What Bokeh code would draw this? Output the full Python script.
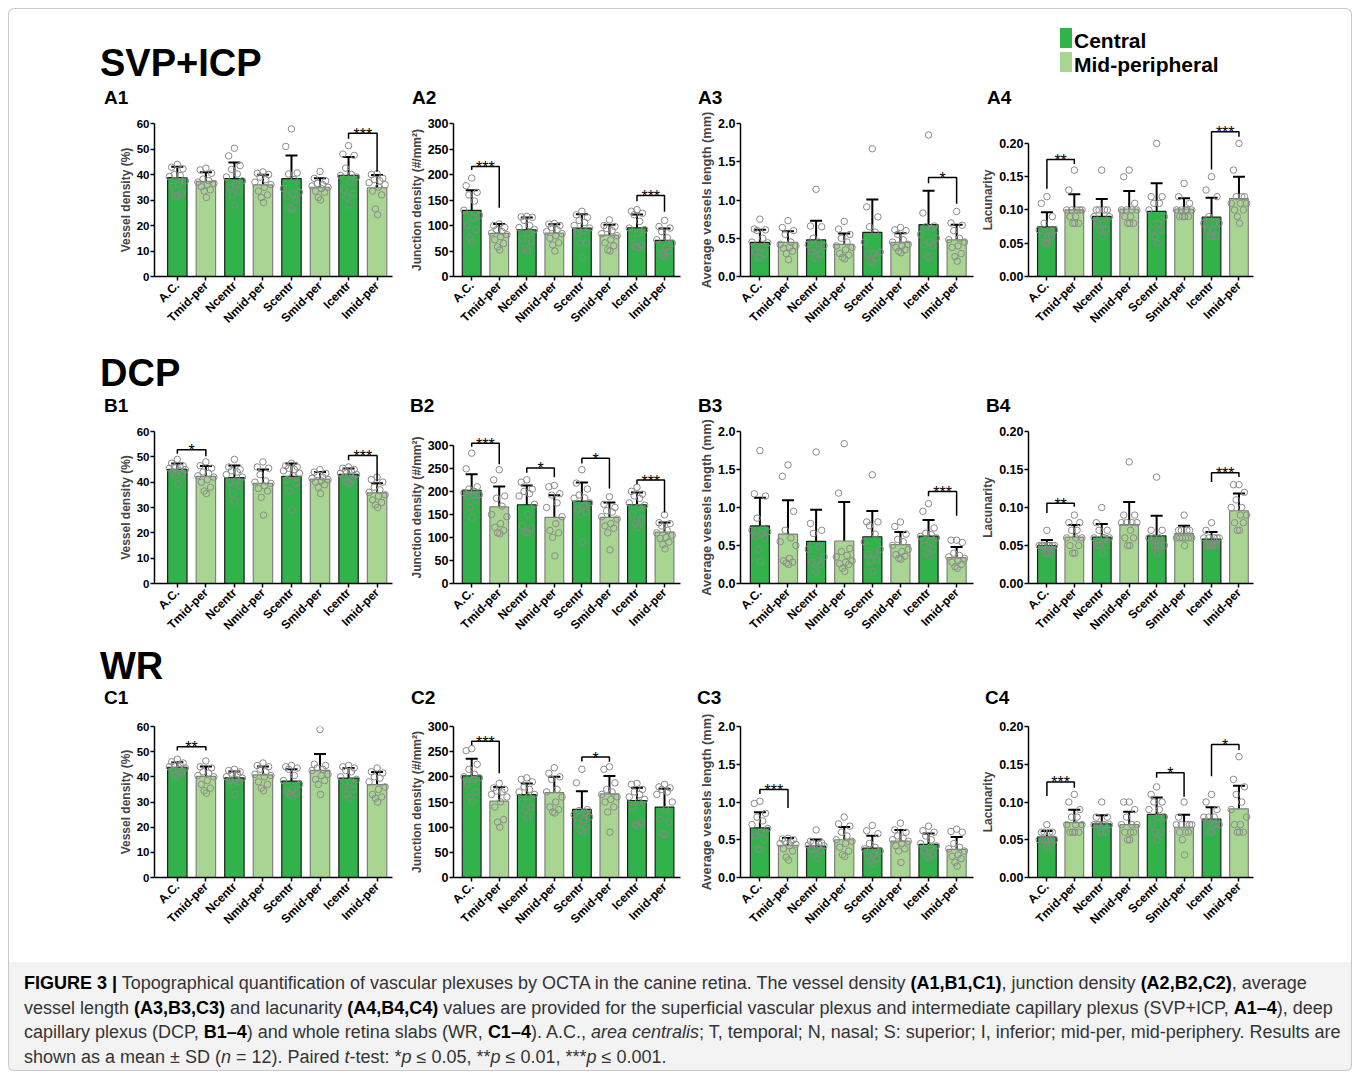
import math
from bokeh.plotting import figure
from bokeh.models import (ColumnDataSource, Whisker, TeeHead, Div,
                          FixedTicker, Range1d, NumeralTickFormatter)
from bokeh.layouts import column, row
from bokeh.embed import file_html
from bokeh.resources import INLINE
from bokeh.core.properties import value

# ------------------------------------------------------------------ data
CATEGORIES = ["A.C.", "Tmid-per", "Ncentr", "Nmid-per", "Scentr", "Smid-per", "Icentr", "Imid-per"]
GROUPS = ["Central", "Mid-peripheral"] * 4
GROUPS_IMID_CENTRAL = ["Central", "Mid-peripheral"] * 3 + ["Central", "Central"]
LEGEND_LABELS = ["Central", "Mid-peripheral"]
SECTION_TITLES = ["SVP+ICP", "DCP", "WR"]

# significance: (bar i, bar j, stars, bracket level, left leg end, right leg end)
A1_MEAN = [38.8, 37.3, 38.4, 35.9, 38.4, 35.0, 39.7, 34.8]
A1_SD = [4.2, 3.6, 6.3, 4.0, 9.1, 3.5, 7.2, 5.0]
A1_PTS = [
    [44.0, 42.8, 42.2, 40.0, 39.6, 39.2, 37.5, 36.2, 35.5, 32.5, 31.8, 31.5],
    [42.5, 41.8, 40.5, 38.2, 37.6, 37.0, 36.5, 36.0, 35.2, 34.0, 33.5, 31.0],
    [50.3, 47.3, 43.5, 42.0, 40.2, 39.0, 37.5, 36.3, 35.0, 33.5, 32.0, 28.0],
    [41.0, 40.5, 40.0, 39.0, 38.0, 37.0, 36.0, 35.0, 33.5, 32.0, 31.0, 29.0],
    [57.9, 51.0, 40.6, 40.2, 38.0, 34.5, 33.0, 32.5, 31.5, 30.0, 27.0, 26.5],
    [41.2, 38.5, 37.5, 36.5, 36.0, 35.5, 35.0, 34.5, 33.5, 33.0, 31.0, 30.0],
    [51.3, 48.0, 47.5, 42.5, 40.0, 39.6, 39.0, 37.0, 34.0, 32.5, 31.0, 28.0],
    [40.3, 40.0, 38.5, 38.0, 37.5, 36.8, 36.0, 35.0, 33.5, 32.0, 26.5, 24.2],
]
A1_SIG = [(6, 7, "***", 56.2, 54.0, 41.1)]

A2_MEAN = [129.7, 84.5, 91.7, 85.1, 95.0, 81.2, 95.6, 70.7]
A2_SD = [39.5, 18.3, 24.0, 17.4, 27.0, 20.3, 26.0, 23.5]
A2_PTS = [
    [193, 178, 165, 160, 148, 130, 120, 115, 100, 92, 75, 68],
    [103, 100, 96, 92, 88, 85, 82, 78, 72, 65, 58, 52],
    [118, 117, 116, 110, 100, 96, 92, 85, 75, 68, 55, 50],
    [104, 103, 100, 96, 92, 88, 84, 80, 75, 66, 62, 50],
    [128, 121, 116, 110, 106, 100, 95, 90, 85, 66, 65, 37],
    [111, 100, 98, 94, 90, 84, 80, 72, 66, 60, 52, 50],
    [131, 128, 124, 121, 108, 95, 92, 85, 75, 62, 58, 57],
    [110, 98, 95, 88, 76, 72, 65, 57, 55, 50, 42, 38],
]
A2_SIG = [(0, 1, "***", 215.5, 209.0, 135.0), (6, 7, "***", 159.0, 147.4, 127.0)]

A3_MEAN = [0.445, 0.445, 0.48, 0.42, 0.578, 0.445, 0.677, 0.48]
A3_SD = [0.165, 0.147, 0.25, 0.143, 0.43, 0.12, 0.445, 0.195]
A3_PTS = [
    [0.75, 0.62, 0.61, 0.60, 0.50, 0.45, 0.44, 0.38, 0.32, 0.30, 0.25, 0.24],
    [0.73, 0.64, 0.60, 0.55, 0.45, 0.42, 0.40, 0.38, 0.37, 0.33, 0.30, 0.22],
    [1.14, 0.66, 0.65, 0.50, 0.45, 0.42, 0.40, 0.35, 0.32, 0.30, 0.25, 0.22],
    [0.72, 0.62, 0.55, 0.50, 0.45, 0.40, 0.38, 0.35, 0.30, 0.28, 0.25, 0.23],
    [1.67, 0.91, 0.78, 0.65, 0.58, 0.45, 0.32, 0.30, 0.30, 0.25, 0.20, 0.17],
    [0.64, 0.61, 0.60, 0.55, 0.48, 0.45, 0.42, 0.40, 0.38, 0.35, 0.33, 0.31],
    [1.85, 0.83, 0.66, 0.65, 0.63, 0.55, 0.50, 0.45, 0.42, 0.40, 0.26, 0.25],
    [0.85, 0.70, 0.67, 0.60, 0.50, 0.48, 0.45, 0.40, 0.38, 0.30, 0.26, 0.20],
]
A3_SIG = [(6, 7, "*", 1.293, 1.22, 0.95)]

A4_MEAN = [0.0747, 0.1002, 0.0905, 0.1015, 0.098, 0.1015, 0.0892, 0.117]
A4_SD = [0.022, 0.0235, 0.026, 0.027, 0.042, 0.016, 0.029, 0.033]
A4_PTS = [
    [0.12, 0.11, 0.09, 0.08, 0.07, 0.07, 0.07, 0.06, 0.06, 0.06, 0.05, 0.05],
    [0.16, 0.13, 0.10, 0.10, 0.10, 0.10, 0.10, 0.09, 0.09, 0.08, 0.08, 0.08],
    [0.16, 0.10, 0.10, 0.10, 0.10, 0.09, 0.09, 0.08, 0.08, 0.07, 0.07, 0.06],
    [0.16, 0.15, 0.11, 0.10, 0.10, 0.10, 0.10, 0.09, 0.09, 0.08, 0.08, 0.08],
    [0.20, 0.12, 0.12, 0.11, 0.11, 0.10, 0.09, 0.08, 0.07, 0.07, 0.06, 0.05],
    [0.14, 0.12, 0.11, 0.10, 0.10, 0.10, 0.10, 0.10, 0.09, 0.09, 0.09, 0.09],
    [0.15, 0.13, 0.12, 0.09, 0.08, 0.08, 0.08, 0.07, 0.07, 0.06, 0.06, 0.06],
    [0.20, 0.16, 0.12, 0.12, 0.12, 0.11, 0.11, 0.11, 0.10, 0.10, 0.09, 0.08],
]
A4_SIG = [(0, 1, "**", 0.176, 0.132, 0.169), (6, 7, "***", 0.2176, 0.161, 0.21)]

B1_MEAN = [45.1, 42.3, 41.8, 39.5, 42.3, 41.2, 43.1, 35.8]
B1_SD = [2.3, 4.1, 4.75, 5.5, 5.1, 2.8, 2.3, 3.8]
B1_PTS = [
    [49.0, 47.5, 46.5, 46.0, 45.8, 45.5, 45.0, 44.5, 44.0, 43.5, 43.0, 39.2],
    [48.0, 46.5, 45.5, 44.0, 43.5, 42.5, 42.0, 41.0, 40.0, 38.0, 36.5, 35.5],
    [49.0, 46.0, 45.0, 44.5, 44.0, 43.0, 42.0, 40.5, 40.0, 38.5, 35.5, 32.5],
    [48.0, 46.0, 45.5, 43.0, 40.5, 40.0, 39.5, 38.5, 37.5, 36.5, 34.0, 27.0],
    [47.5, 46.5, 46.0, 45.5, 45.0, 44.5, 43.5, 42.5, 41.0, 39.5, 36.5, 29.0],
    [45.0, 44.0, 43.5, 43.0, 42.0, 41.5, 41.0, 40.5, 40.0, 39.0, 38.0, 35.5],
    [46.0, 45.5, 45.0, 44.5, 44.0, 43.5, 43.0, 42.5, 42.0, 41.0, 40.0, 39.5],
    [42.0, 41.0, 40.0, 38.0, 37.0, 36.0, 35.0, 34.5, 33.0, 32.0, 31.0, 30.0],
]
B1_SIG = [(0, 1, "*", 52.8, 51.2, 50.2), (6, 7, "***", 50.5, 48.7, 40.4)]

B2_MEAN = [202.4, 166.4, 171.0, 143.4, 178.8, 143.4, 171.0, 111.4]
B2_SD = [35.0, 44.0, 41.5, 48.0, 40.6, 32.4, 26.5, 21.3]
B2_PTS = [
    [283, 249, 210, 205, 200, 197, 193, 192, 190, 180, 165, 143],
    [247, 225, 190, 185, 168, 150, 145, 130, 122, 115, 110, 108],
    [225, 220, 205, 200, 195, 190, 172, 150, 125, 120, 112, 110],
    [213, 210, 195, 192, 175, 165, 145, 130, 115, 110, 100, 60],
    [247, 218, 205, 192, 186, 185, 175, 168, 160, 155, 150, 90],
    [188, 172, 165, 158, 155, 145, 140, 130, 125, 120, 110, 73],
    [209, 200, 194, 190, 185, 175, 170, 165, 150, 140, 130, 122],
    [149, 132, 130, 125, 115, 110, 105, 100, 98, 90, 85, 75],
]
B2_SIG = [(0, 1, "***", 304.6, 296.7, 258.7), (2, 3, "*", 251.0, 240.4, 230.6),
          (4, 5, "*", 271.8, 260.7, 206.3), (6, 7, "***", 224.7, 216.2, 154.0)]

B3_MEAN = [0.757, 0.649, 0.555, 0.559, 0.615, 0.512, 0.624, 0.34]
B3_SD = [0.372, 0.445, 0.415, 0.514, 0.34, 0.166, 0.21, 0.14]
B3_PTS = [
    [1.75, 1.18, 1.15, 0.86, 0.72, 0.70, 0.68, 0.65, 0.62, 0.60, 0.45, 0.29],
    [1.56, 1.41, 0.95, 0.70, 0.60, 0.55, 0.50, 0.33, 0.30, 0.28, 0.27, 0.25],
    [1.73, 0.79, 0.70, 0.66, 0.48, 0.45, 0.35, 0.30, 0.28, 0.25, 0.18, 0.15],
    [1.84, 1.19, 0.46, 0.42, 0.37, 0.35, 0.30, 0.28, 0.26, 0.25, 0.20, 0.16],
    [1.43, 0.81, 0.81, 0.76, 0.65, 0.55, 0.45, 0.40, 0.38, 0.31, 0.30, 0.16],
    [0.81, 0.75, 0.65, 0.58, 0.55, 0.50, 0.45, 0.42, 0.38, 0.36, 0.33, 0.32],
    [1.05, 0.95, 0.73, 0.66, 0.64, 0.62, 0.60, 0.55, 0.50, 0.45, 0.40, 0.36],
    [0.57, 0.57, 0.54, 0.40, 0.37, 0.35, 0.33, 0.30, 0.28, 0.25, 0.22, 0.20],
]
B3_SIG = [(6, 7, "***", 1.209, 1.148, 0.89)]

B4_MEAN = [0.050, 0.0609, 0.0609, 0.0774, 0.0626, 0.0657, 0.0583, 0.0957]
B4_SD = [0.0074, 0.016, 0.0175, 0.030, 0.0267, 0.0103, 0.0093, 0.0226]
B4_PTS = [
    [0.07, 0.05, 0.05, 0.05, 0.05, 0.05, 0.05, 0.05, 0.05, 0.04, 0.04, 0.04],
    [0.09, 0.08, 0.08, 0.07, 0.07, 0.06, 0.06, 0.06, 0.05, 0.05, 0.04, 0.04],
    [0.10, 0.08, 0.07, 0.07, 0.06, 0.06, 0.06, 0.06, 0.05, 0.05, 0.05, 0.04],
    [0.16, 0.09, 0.09, 0.08, 0.08, 0.08, 0.08, 0.07, 0.06, 0.06, 0.05, 0.05],
    [0.14, 0.07, 0.07, 0.06, 0.06, 0.06, 0.05, 0.05, 0.05, 0.05, 0.05, 0.04],
    [0.09, 0.07, 0.07, 0.07, 0.07, 0.06, 0.06, 0.06, 0.06, 0.06, 0.06, 0.05],
    [0.08, 0.07, 0.06, 0.06, 0.06, 0.06, 0.06, 0.05, 0.05, 0.05, 0.05, 0.05],
    [0.13, 0.13, 0.12, 0.11, 0.10, 0.10, 0.09, 0.09, 0.08, 0.08, 0.07, 0.07],
]
B4_SIG = [(0, 1, "**", 0.1057, 0.0926, 0.1009), (6, 7, "***", 0.1457, 0.1335, 0.14)]

C1_MEAN = [43.8, 40.2, 39.6, 40.8, 38.3, 42.6, 39.5, 36.9]
C1_SD = [2.0, 3.9, 2.55, 3.3, 4.75, 6.5, 4.0, 5.0]
C1_PTS = [
    [47.0, 46.0, 45.5, 45.0, 44.5, 44.0, 43.5, 43.0, 42.5, 42.0, 41.0, 40.0],
    [46.3, 44.0, 43.5, 42.0, 41.5, 40.5, 40.0, 38.5, 37.0, 35.5, 34.5, 33.5],
    [43.0, 42.5, 42.0, 41.5, 41.0, 40.0, 39.5, 39.0, 38.5, 38.0, 37.0, 33.0],
    [45.5, 44.5, 44.0, 43.0, 42.0, 41.0, 40.5, 40.0, 38.0, 37.0, 35.5, 34.5],
    [44.5, 44.0, 43.5, 43.0, 40.5, 38.5, 37.0, 35.0, 34.0, 33.5, 33.0, 32.0],
    [58.8, 45.0, 44.5, 43.5, 43.0, 42.5, 41.0, 40.5, 39.0, 38.5, 37.0, 33.0],
    [44.5, 44.0, 43.5, 42.5, 42.0, 40.0, 39.0, 38.0, 36.0, 35.0, 33.0, 31.5],
    [43.5, 42.0, 41.5, 40.0, 39.5, 38.0, 36.0, 35.0, 33.0, 32.0, 31.5, 30.0],
]
C1_SIG = [(0, 1, "**", 52.0, 50.5, 50.5)]

C2_MEAN = [202.0, 151.6, 164.7, 168.6, 135.3, 166.0, 153.0, 139.9]
C2_SD = [33.7, 28.0, 22.0, 31.7, 36.0, 35.6, 25.5, 36.6]
C2_PTS = [
    [256, 252, 225, 215, 205, 200, 198, 195, 185, 170, 160, 152],
    [187, 178, 175, 172, 170, 165, 160, 150, 140, 115, 110, 100],
    [198, 195, 190, 180, 175, 170, 165, 160, 150, 140, 135, 120],
    [218, 207, 200, 195, 175, 170, 160, 150, 140, 135, 130, 128],
    [215, 188, 135, 133, 130, 125, 120, 115, 108, 100, 95, 92],
    [220, 215, 188, 175, 170, 165, 160, 155, 150, 140, 130, 90],
    [187, 185, 175, 170, 165, 160, 155, 150, 140, 110, 105, 102],
    [185, 180, 178, 175, 170, 165, 150, 135, 115, 110, 87, 85],
]
C2_SIG = [(0, 1, "***", 270.6, 262.7, 207.0), (4, 5, "*", 239.2, 230.7, 230.0)]

C3_MEAN = [0.658, 0.427, 0.415, 0.50, 0.389, 0.483, 0.44, 0.372]
C3_SD = [0.207, 0.097, 0.088, 0.17, 0.165, 0.145, 0.143, 0.163]
C3_PTS = [
    [1.01, 0.98, 0.85, 0.80, 0.75, 0.70, 0.65, 0.60, 0.55, 0.50, 0.38, 0.37],
    [0.52, 0.51, 0.50, 0.48, 0.47, 0.45, 0.44, 0.42, 0.38, 0.35, 0.27, 0.23],
    [0.63, 0.48, 0.46, 0.45, 0.44, 0.43, 0.42, 0.40, 0.38, 0.35, 0.30, 0.25],
    [0.80, 0.71, 0.68, 0.60, 0.55, 0.50, 0.48, 0.45, 0.40, 0.35, 0.30, 0.28],
    [0.69, 0.62, 0.58, 0.45, 0.40, 0.38, 0.35, 0.30, 0.28, 0.25, 0.22, 0.18],
    [0.72, 0.63, 0.60, 0.55, 0.52, 0.50, 0.48, 0.45, 0.42, 0.38, 0.35, 0.20],
    [0.68, 0.62, 0.60, 0.55, 0.50, 0.45, 0.42, 0.40, 0.35, 0.30, 0.28, 0.26],
    [0.64, 0.61, 0.60, 0.45, 0.40, 0.38, 0.35, 0.30, 0.28, 0.25, 0.20, 0.15],
]
C3_SIG = [(0, 1, "***", 1.167, 1.107, 0.919)]

C4_MEAN = [0.0538, 0.0726, 0.0709, 0.070, 0.0836, 0.0665, 0.0775, 0.091]
C4_SD = [0.0077, 0.017, 0.0116, 0.017, 0.0223, 0.0166, 0.0157, 0.0304]
C4_PTS = [
    [0.07, 0.06, 0.06, 0.06, 0.06, 0.05, 0.05, 0.05, 0.05, 0.05, 0.05, 0.04],
    [0.11, 0.10, 0.09, 0.08, 0.08, 0.07, 0.07, 0.07, 0.06, 0.06, 0.06, 0.06],
    [0.10, 0.08, 0.08, 0.07, 0.07, 0.07, 0.07, 0.07, 0.07, 0.06, 0.06, 0.06],
    [0.10, 0.10, 0.09, 0.08, 0.07, 0.07, 0.07, 0.06, 0.06, 0.06, 0.05, 0.05],
    [0.12, 0.11, 0.10, 0.10, 0.09, 0.09, 0.08, 0.08, 0.07, 0.06, 0.06, 0.05],
    [0.10, 0.08, 0.07, 0.07, 0.07, 0.07, 0.07, 0.06, 0.06, 0.06, 0.05, 0.03],
    [0.11, 0.10, 0.09, 0.08, 0.08, 0.08, 0.07, 0.07, 0.07, 0.07, 0.06, 0.06],
    [0.16, 0.13, 0.12, 0.11, 0.10, 0.09, 0.08, 0.07, 0.07, 0.06, 0.06, 0.06],
]
C4_SIG = [(0, 1, "***", 0.1265, 0.108, 0.119), (4, 5, "*", 0.1387, 0.132, 0.107),
          (6, 7, "*", 0.176, 0.134, 0.169)]

# y axes: (max, step, tick format, label)
Y_AXES = {
    "vd": (60, 10, "0", "Vessel density (%)"),
    "jd": (300, 50, "0", "Junction density (#/mm²)"),
    "avl": (2.0, 0.5, "0.0", "Average vessels length (mm)"),
    "lac": (0.20, 0.05, "0.00", "Lacunarity"),
}

# ------------------------------------------------------------------ style / layout
FONT = "Liberation Sans"
DARK = "#31b24b"
LIGHT = "#a9d592"
FILL = {"Central": DARK, "Mid-peripheral": LIGHT}
EDGE = {"Central": "#1e1e1e", "Mid-peripheral": "#7f7f7f"}
JITTER = [0.0, -0.2, 0.2, -0.1, 0.1, -0.28, 0.28, 0.05, -0.16, 0.16, -0.06, 0.02]
BAR_W = 0.68
PAGE_W = 1352
BORDER = "1px solid #c9c9c9"
FRAME_L, FRAME_R = 8, 1351          # outer figure frame (page px)
TICK_SIZE = {"vd": "11.5px", "jd": "12.5px", "avl": "12.5px", "lac": "12.5px"}
LABEL_SIZE = {"vd": "12px", "jd": "12px", "avl": "12.8px", "lac": "12px"}

COL_FIG_LEFT = [100, 400, 690, 975]
COL_FIG_W = [300, 290, 285, 285]
COL_FRAME_LEFT = [154, 453, 740, 1028]
COL_FRAME_RIGHT = [392, 680, 973, 1253]
X_START = [-0.80, -0.66, -0.69, -0.67]
X_END = [7.54, 7.58, 7.60, 7.53]
ROW_TOP = {"A": 110, "B": 416, "C": 708}
ROW_H = {"A": 238, "B": 229, "C": 242}

PANELS = [
    # name, row, col, kind, mean, sd, pts, sig, groups, (y px of axis max, y px of 0, range end)
    ("A1", "A", 0, "vd", A1_MEAN, A1_SD, A1_PTS, A1_SIG, GROUPS, (123.3, 282.0, 60)),
    ("A2", "A", 1, "jd", A2_MEAN, A2_SD, A2_PTS, A2_SIG, GROUPS_IMID_CENTRAL, (122.7, 275.3, 300)),
    ("A3", "A", 2, "avl", A3_MEAN, A3_SD, A3_PTS, A3_SIG, GROUPS, (123.3, 279.0, 2.0)),
    ("A4", "A", 3, "lac", A4_MEAN, A4_SD, A4_PTS, A4_SIG, GROUPS, (134.3, 286.0, 0.23)),
    ("B1", "B", 0, "vd", B1_MEAN, B1_SD, B1_PTS, B1_SIG, GROUPS, (431.0, 588.3, 60)),
    ("B2", "B", 1, "jd", B2_MEAN, B2_SD, B2_PTS, B2_SIG, GROUPS, (432.3, 585.0, 330)),
    ("B3", "B", 2, "avl", B3_MEAN, B3_SD, B3_PTS, B3_SIG, GROUPS, (430.7, 585.7, 2.0)),
    ("B4", "B", 3, "lac", B4_MEAN, B4_SD, B4_PTS, B4_SIG, GROUPS, (430.0, 583.3, 0.2)),
    ("C1", "C", 0, "vd", C1_MEAN, C1_SD, C1_PTS, C1_SIG, GROUPS, (725.7, 883.3, 60)),
    ("C2", "C", 1, "jd", C2_MEAN, C2_SD, C2_PTS, C2_SIG, GROUPS_IMID_CENTRAL, (725.0, 878.0, 300)),
    ("C3", "C", 2, "avl", C3_MEAN, C3_SD, C3_PTS, C3_SIG, GROUPS, (725.7, 881.7, 2.0)),
    ("C4", "C", 3, "lac", C4_MEAN, C4_SD, C4_PTS, C4_SIG, GROUPS, (725.0, 876.7, 0.2)),
]


def build_panel(rk, col, kind, mean, sd, pts, sig, groups, geom):
    ymax, ystep, fmt, ylabel = Y_AXES[kind]
    ytop_px, ybot_px, y_end = geom
    scale = (ybot_px - ytop_px) / ymax
    frame_top = ybot_px - y_end * scale
    bt = int(round(frame_top - ROW_TOP[rk]))
    fh = int(round(ybot_px - frame_top))
    bb = ROW_H[rk] - bt - fh
    bl = COL_FRAME_LEFT[col] - COL_FIG_LEFT[col]
    br = COL_FIG_LEFT[col] + COL_FIG_W[col] - COL_FRAME_RIGHT[col]

    p = figure(width=COL_FIG_W[col], height=ROW_H[rk],
               x_range=Range1d(X_START[col], X_END[col]), y_range=Range1d(0, y_end),
               output_backend="svg", toolbar_location=None, tools="",
               min_border_left=bl, min_border_right=br,
               min_border_top=bt, min_border_bottom=bb)
    p.outline_line_color = None
    p.xgrid.visible = False
    p.ygrid.visible = False
    p.background_fill_color = None
    p.border_fill_color = None

    xs = list(range(len(CATEGORIES)))
    src = ColumnDataSource(dict(
        x=xs, mean=mean,
        upper=[m + s for m, s in zip(mean, sd)],
        lower=[m - s for m, s in zip(mean, sd)],
        fill=[FILL[g] for g in groups],
        edge=[EDGE[g] for g in groups],
    ))
    p.vbar(x="x", top="mean", bottom=0, width=BAR_W, fill_color="fill",
           line_color="edge", line_width=1.2, source=src)

    px, py = [], []
    for i, vals in enumerate(pts):
        for k, v in enumerate(sorted(vals, reverse=True)):
            px.append(i + JITTER[k])
            py.append(v)
    p.scatter(px, py, marker="circle", size=6.5, fill_color="white", fill_alpha=0.0,
              line_color="#8a8a8a", line_width=1.0)

    w = Whisker(source=src, base="x", upper="upper", lower="lower",
                line_color="black", line_width=2,
                upper_head=TeeHead(size=12, line_width=2, line_color="black"),
                lower_head=TeeHead(size=12, line_width=2, line_color="black"))
    p.add_layout(w)

    bxs, bys, sx, sy, st = [], [], [], [], []
    for (i, j, stars, top, le, re) in sig:
        bxs.append([i, i, j, j])
        bys.append([le, top, top, re])
        sx.append((i + j) / 2)
        sy.append(top)
        st.append(stars)
    if bxs:
        p.multi_line(bxs, bys, line_color="black", line_width=1.5)
        p.text(sx, sy, text=st, text_align="center", text_baseline="alphabetic",
               y_offset=1, text_font=value(FONT), text_font_size="16px", text_color="black")

    nt = int(round(ymax / ystep))
    ticks = [round(k * ystep, 4) for k in range(nt + 1)]
    p.yaxis.ticker = FixedTicker(ticks=ticks)
    p.yaxis.formatter = NumeralTickFormatter(format=fmt)
    p.yaxis.bounds = (0, ymax)
    p.yaxis.axis_label = ylabel
    p.xaxis.ticker = FixedTicker(ticks=xs)
    p.xaxis.major_label_overrides = {i: c for i, c in enumerate(CATEGORIES)}
    p.xaxis.major_label_orientation = math.pi / 4
    for ax in (p.xaxis, p.yaxis):
        ax.axis_line_width = 1.5
        ax.axis_line_color = "black"
        ax.major_tick_line_width = 1.5
        ax.major_tick_line_color = "black"
        ax.major_tick_out = 4
        ax.major_tick_in = 0
        ax.minor_tick_line_color = None
        ax.major_label_text_font = FONT
        ax.major_label_text_font_style = "bold"
        ax.major_label_text_color = "black"
        ax.major_label_standoff = 1
        ax.axis_label_text_font = FONT
        ax.axis_label_text_font_style = "bold"
        ax.axis_label_text_font_size = LABEL_SIZE[kind]
        ax.axis_label_standoff = 1
    p.yaxis.major_label_text_font_size = TICK_SIZE[kind]
    p.xaxis.major_label_text_font_size = "12px"
    p.xaxis.major_label_standoff = 3
    return p


figs = {}
for (name, rk, col, kind, mean, sd, pts, sig, groups, geom) in PANELS:
    figs[name] = build_panel(rk, col, kind, mean, sd, pts, sig, groups, geom)

FF = "'Liberation Sans', Arial, sans-serif"


def txt(s, left, top, size, weight="bold", color="#000"):
    return (f'<div style="position:absolute;left:{left}px;top:{top}px;font-size:{size}px;'
            f'line-height:1;font-weight:{weight};color:{color};white-space:nowrap;font-family:{FF};">{s}</div>')


def box(left, top, w, h, style):
    return (f'<div style="position:absolute;left:{left}px;top:{top}px;width:{w}px;height:{h}px;'
            f'box-sizing:border-box;{style}"></div>')


def make_div(inner, w, h):
    html = f'<div style="position:relative;width:{w}px;height:{h}px;">' + inner + '</div>'
    return Div(text=html, width=w, height=h, margin=(0, 0, 0, 0))


def sides(h):
    return box(FRAME_L, 0, FRAME_R - FRAME_L + 1, h, f"border-left:{BORDER};border-right:{BORDER};")


# header: page y 0..110
hh = ROW_TOP["A"]
header_html = (box(FRAME_L, 8, FRAME_R - FRAME_L + 1, hh - 8,
                   f"border:{BORDER};border-bottom:none;border-radius:6px 6px 0 0;")
               + txt(SECTION_TITLES[0], 100, 44, 38)
               + box(1060, 28, 12, 20, f"background:{DARK};") + box(1060, 52, 12, 20, f"background:{LIGHT};")
               + txt(LEGEND_LABELS[0], 1074, 30, 21) + txt(LEGEND_LABELS[1], 1074, 54, 21)
               + txt("A1", 104, 88, 19) + txt("A2", 412, 88, 19)
               + txt("A3", 698, 88, 19) + txt("A4", 987, 88, 19))
header = make_div(header_html, PAGE_W, hh)

# DCP band
dcp_top = ROW_TOP["A"] + ROW_H["A"]
dh = ROW_TOP["B"] - dcp_top
dcp_html = (sides(dh) + txt(SECTION_TITLES[1], 100, 372 - 18 - dcp_top, 38)
            + txt("B1", 104, 405 - 9 - dcp_top, 19) + txt("B2", 410, 405 - 9 - dcp_top, 19)
            + txt("B3", 698, 405 - 9 - dcp_top, 19) + txt("B4", 986, 405 - 9 - dcp_top, 19))
dcp = make_div(dcp_html, PAGE_W, dh)

# WR band
wr_top = ROW_TOP["B"] + ROW_H["B"]
wh = ROW_TOP["C"] - wr_top
wr_html = (sides(wh) + txt(SECTION_TITLES[2], 100, 665 - 18 - wr_top, 38)
           + txt("C1", 104, 697 - 9 - wr_top, 19) + txt("C2", 411, 697 - 9 - wr_top, 19)
           + txt("C3", 697, 697 - 9 - wr_top, 19) + txt("C4", 985, 697 - 9 - wr_top, 19))
wr = make_div(wr_html, PAGE_W, wh)

CAPTION_LINES = [
    "<b style='color:#000'>FIGURE 3 |</b> Topographical quantification of vascular plexuses by OCTA in the canine retina. "
    "The vessel density <b style='color:#000'>(A1,B1,C1)</b>, junction density <b style='color:#000'>(A2,B2,C2)</b>, average",
    "vessel length <b style='color:#000'>(A3,B3,C3)</b> and lacunarity <b style='color:#000'>(A4,B4,C4)</b> values are provided "
    "for the superficial vascular plexus and intermediate capillary plexus (SVP+ICP, <b style='color:#000'>A1–4</b>), deep",
    "capillary plexus (DCP, <b style='color:#000'>B1–4</b>) and whole retina slabs (WR, <b style='color:#000'>C1–4</b>). "
    "A.C., <i>area centralis</i>; T, temporal; N, nasal; S: superior; I, inferior; mid-per, mid-periphery. Results are",
    "shown as a mean ± SD (<i>n</i> = 12). Paired <i>t</i>-test: *<i>p</i> ≤ 0.05, **<i>p</i> ≤ 0.01, ***<i>p</i> ≤ 0.001.",
]
cap_top = ROW_TOP["C"] + ROW_H["C"]
cap_h = 122
cap_html = (box(FRAME_L, 962 - cap_top, FRAME_R - FRAME_L + 1, 1070 - 962, "background:#f3f3f3;")
            + box(FRAME_L, 0, FRAME_R - FRAME_L + 1, 1071 - cap_top,
                  f"border:{BORDER};border-top:none;border-radius:0 0 6px 6px;")
            + f'<div style="position:absolute;left:24px;top:{971 - cap_top}px;font-size:18px;line-height:24.7px;'
              f'color:#333;white-space:nowrap;font-family:{FF};">' + "<br>".join(CAPTION_LINES) + '</div>')
caption = make_div(cap_html, PAGE_W, cap_h)


def row_of(rk, names):
    h = ROW_H[rk]
    left = make_div(box(FRAME_L, 0, 1, h, f"border-left:{BORDER};"), COL_FIG_LEFT[0], h)
    right_x = COL_FIG_LEFT[3] + COL_FIG_W[3]
    right = make_div(box(FRAME_R - right_x, 0, 1, h, f"border-left:{BORDER};"), PAGE_W - right_x, h)
    return row([left] + [figs[k] for k in names] + [right], spacing=0)


rowA = row_of("A", ("A1", "A2", "A3", "A4"))
rowB = row_of("B", ("B1", "B2", "B3", "B4"))
rowC = row_of("C", ("C1", "C2", "C3", "C4"))

layout = column([header, rowA, dcp, rowB, wr, rowC, caption], spacing=0)

open("out.html", "w").write(file_html(layout, INLINE, title="Figure 3"))
